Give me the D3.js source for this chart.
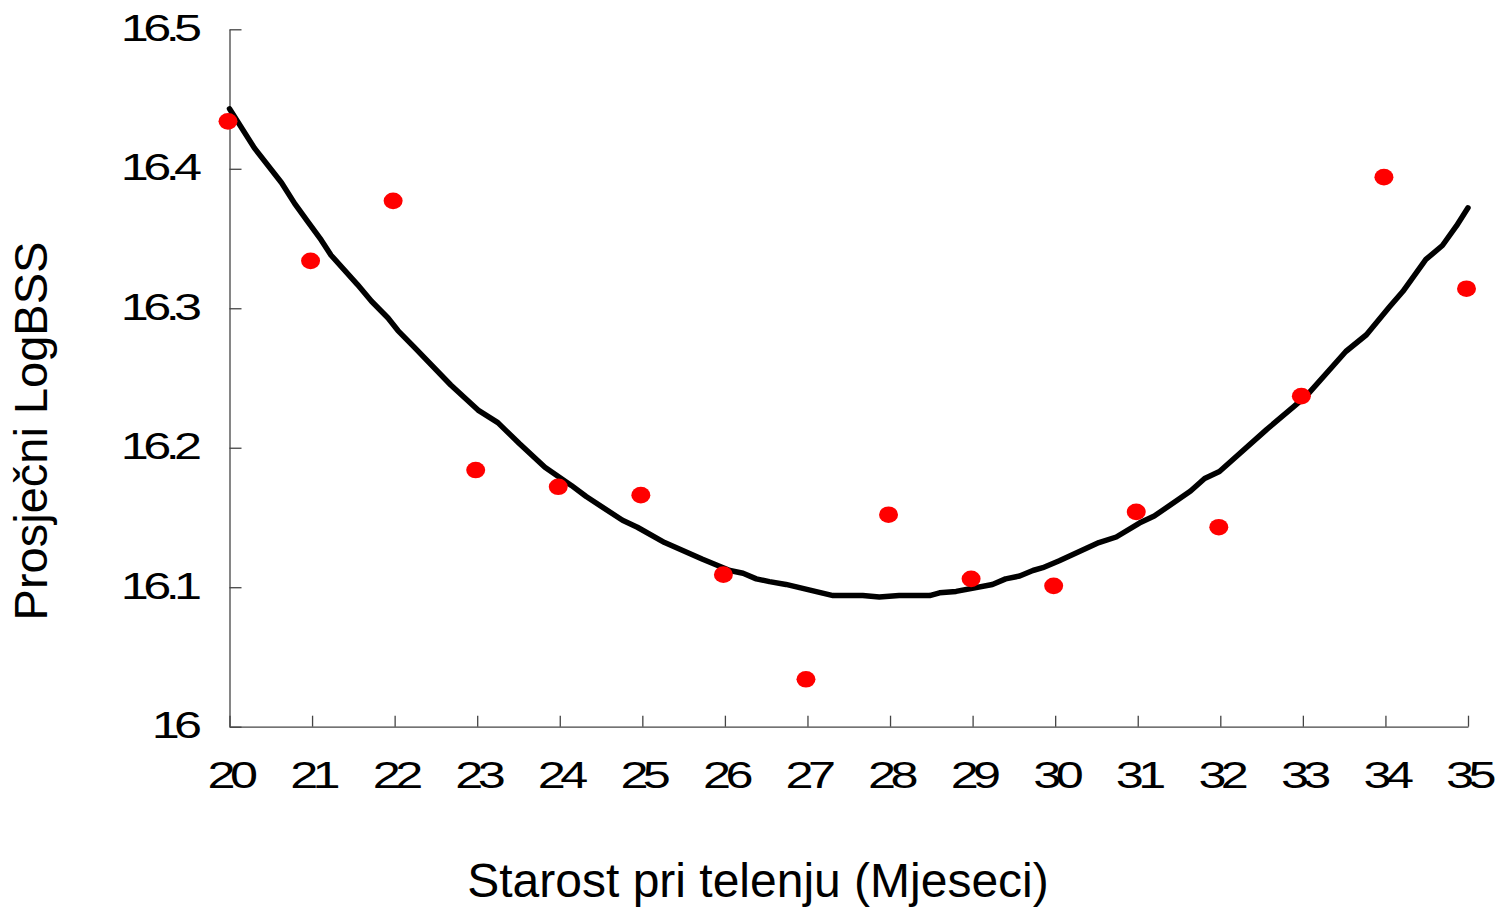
<!DOCTYPE html>
<html>
<head>
<meta charset="utf-8">
<script src="https://cdn.jsdelivr.net/npm/d3@7"></script>
<style>
  body { margin: 0; background: #fff; }
  text { font-family: "Liberation Sans", Arial, sans-serif; fill: #000; }
</style>
</head>
<body>
<div id="chart"></div>
<script>
// observed points: age at calving (months) vs mean LogBSS
var ages = [20, 21, 22, 23, 24, 25, 26, 27, 28, 29, 30, 31, 32, 33, 34, 35];
var meanLogBSS = [16.434, 16.334, 16.377, 16.184, 16.172, 16.166, 16.109, 16.034,
                  16.152, 16.106, 16.101, 16.154, 16.143, 16.237, 16.394, 16.314];

// fitted trend line
var trendX = [20.00, 20.30, 20.63, 20.79, 20.95, 21.11, 21.23, 21.55, 21.72, 21.92,
              22.04, 22.24, 22.68, 23.01, 23.25, 23.51, 23.82, 24.14, 24.32, 24.76,
              24.94, 25.27, 25.73, 26.06, 26.22, 26.38, 26.54, 26.74, 27.31, 27.67,
              27.87, 28.11, 28.48, 28.60, 28.80, 29.24, 29.40, 29.57, 29.73, 29.85,
              30.05, 30.53, 30.74, 31.02, 31.20, 31.64, 31.81, 31.99, 32.56, 33.04,
              33.52, 33.77, 34.05, 34.21, 34.49, 34.69, 34.86, 35.00];
var trendY = [16.443, 16.415, 16.390, 16.375, 16.362, 16.349, 16.338, 16.317, 16.305, 16.293,
              16.284, 16.272, 16.245, 16.227, 16.218, 16.203, 16.186, 16.173, 16.165, 16.148,
              16.143, 16.132, 16.120, 16.112, 16.110, 16.106, 16.104, 16.102, 16.094, 16.094,
              16.093, 16.094, 16.094, 16.096, 16.097, 16.102, 16.106, 16.108, 16.112, 16.114,
              16.119, 16.132, 16.136, 16.146, 16.151, 16.169, 16.178, 16.183, 16.213, 16.237,
              16.269, 16.281, 16.301, 16.312, 16.335, 16.345, 16.359, 16.372];

var xTicks = [20, 21, 22, 23, 24, 25, 26, 27, 28, 29, 30, 31, 32, 33, 34, 35];
var yTicks = [16, 16.1, 16.2, 16.3, 16.4, 16.5];
var xTitle = "Starost pri telenju (Mjeseci)";
var yTitle = "Prosječni LogBSS";

// set the dimensions and margins of the graph
var margin = {top: 29.3, right: 33, bottom: 180.3, left: 229.5},
    width = 1501 - margin.left - margin.right,
    height = 907 - margin.top - margin.bottom;

var svg = d3.select("#chart")
    .append("svg")
    .attr("width", 1501)
    .attr("height", 907)
    .append("g")
    .attr("transform", "translate(" + margin.left + "," + margin.top + ")");

var x = d3.scaleLinear().domain([20, 35]).range([0, width]);
var y = d3.scaleLinear().domain([16, 16.5]).range([height, 0]);

// X axis, ticks pointing inward
var xAxis = svg.append("g")
    .attr("transform", "translate(0," + height + ")")
    .call(d3.axisBottom(x).tickValues(xTicks).tickFormat(d3.format("d"))
        .tickSizeInner(-11).tickSizeOuter(0).tickPadding(36));

// Y axis
var yAxis = svg.append("g")
    .call(d3.axisLeft(y).tickValues(yTicks).tickFormat(function (d) { return +d.toFixed(1); })
        .tickSizeInner(-12).tickSizeOuter(0));

[xAxis, yAxis].forEach(function (ax) {
    ax.select(".domain").attr("stroke", "#444").attr("stroke-width", 1.3);
    ax.selectAll(".tick line").attr("stroke", "#444").attr("stroke-width", 1.3);
    ax.selectAll("text")
        .style("font-family", "'Liberation Sans', Arial, sans-serif")
        .style("font-size", "36px")
        .style("letter-spacing", "-4px")
        .attr("fill", "#000");
});

xAxis.selectAll(".tick text")
    .attr("x", 0)
    .attr("transform", "translate(0,0) scale(1.4,1)");

yAxis.selectAll(".tick text")
    .attr("x", 0)
    .attr("dy", "0.3em")
    .attr("text-anchor", "end")
    .attr("transform", "translate(-33,0) scale(1.4,1)");

// trend line
var pts = trendX.map(function (d, i) { return {x: d, y: trendY[i]}; });
svg.append("path")
    .datum(pts)
    .attr("fill", "none")
    .attr("stroke", "#000")
    .attr("stroke-width", 5.5)
    .attr("stroke-linecap", "round")
    .attr("stroke-linejoin", "round")
    .attr("d", d3.line()
        .x(function (d) { return x(d.x); })
        .y(function (d) { return y(d.y); }));

// observed points
svg.selectAll("ellipse.pt")
    .data(ages)
    .enter()
    .append("ellipse")
    .attr("class", "pt")
    .attr("cx", function (d) { return x(d) - 1.5; })
    .attr("cy", function (d, i) { return y(meanLogBSS[i]); })
    .attr("rx", 9.5)
    .attr("ry", 8.3)
    .attr("fill", "#ff0000");

// axis titles
svg.append("text")
    .attr("x", 758 - margin.left)
    .attr("y", 897 - margin.top)
    .attr("text-anchor", "middle")
    .style("font-size", "48px")
    .text(xTitle);

svg.append("text")
    .attr("transform", "translate(" + (47 - margin.left) + "," + (431 - margin.top) + ") rotate(-90)")
    .attr("text-anchor", "middle")
    .style("font-size", "47px")
    .text(yTitle);
</script>
</body>
</html>
